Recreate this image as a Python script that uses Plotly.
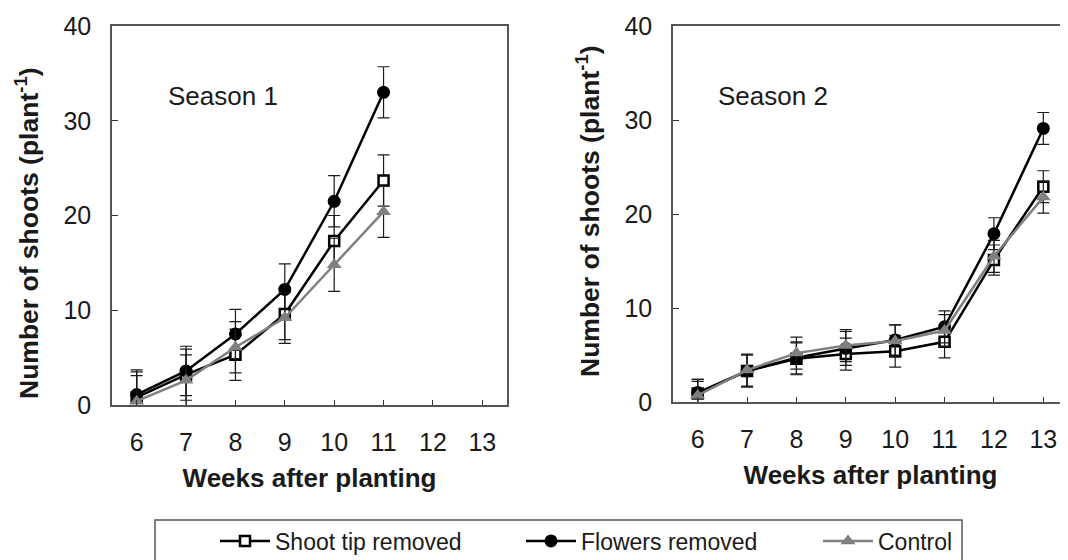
import plotly.graph_objects as go

W, H = 1068, 560
OFF = 8  # the page body offsets the figure by 8 px

weeks_s1 = [6, 7, 8, 9, 10, 11]
weeks_s2 = [6, 7, 8, 9, 10, 11, 12, 13]

# Season 1
shoot_s1 = [0.8, 3.2, 5.3, 9.6, 17.3, 23.7]
shoot_s1_err = [2.7, 2.7, 2.7, 2.7, 2.7, 2.7]
flowers_s1 = [1.1, 3.6, 7.5, 12.2, 21.5, 33.0]
flowers_s1_err = [2.6, 2.6, 2.6, 2.7, 2.7, 2.7]
control_s1 = [0.4, 2.6, 6.1, 9.2, 14.8, 20.4]
control_s1_err = [2.7, 2.7, 2.7, 2.7, 2.8, 2.7]

# Season 2
shoot_s2 = [0.9, 3.3, 4.6, 5.1, 5.4, 6.4, 15.1, 22.9]
shoot_s2_err = [1.5, 1.7, 1.7, 1.7, 1.7, 1.7, 1.6, 1.7]
flowers_s2 = [1.0, 3.3, 4.7, 5.7, 6.6, 8.0, 17.9, 29.1]
flowers_s2_err = [1.4, 1.7, 1.7, 1.8, 1.6, 1.7, 1.7, 1.7]
control_s2 = [0.7, 3.4, 5.2, 6.0, 6.5, 7.6, 15.5, 21.8]
control_s2_err = [1.5, 1.7, 1.7, 1.7, 1.7, 1.7, 1.7, 1.7]

series_names = ["Shoot tip removed", "Flowers removed", "Control"]
x_ticks = [6, 7, 8, 9, 10, 11, 12, 13]
y_ticks = [0, 10, 20, 30, 40]

FONT = "Liberation Sans, Arial, sans-serif"
GREY = "#808080"
ERRC = "#1a1a1a"


def px(x):
    return (x - OFF) / W


def py(y):
    return 1 - (y - OFF) / H


styles = [
    dict(line=dict(color="black", width=2.5),
         marker=dict(symbol="square", size=10, color="white",
                     line=dict(color="black", width=2.5))),
    dict(line=dict(color="black", width=2.5),
         marker=dict(symbol="circle", size=13, color="black",
                     line=dict(color="black", width=0))),
    dict(line=dict(color=GREY, width=2.5),
         marker=dict(symbol="triangle-up", size=13, color=GREY,
                     line=dict(color=GREY, width=0))),
]

fig = go.Figure()

s1 = [(shoot_s1, shoot_s1_err), (flowers_s1, flowers_s1_err), (control_s1, control_s1_err)]
s2 = [(shoot_s2, shoot_s2_err), (flowers_s2, flowers_s2_err), (control_s2, control_s2_err)]
legends = ["legend", "legend2", "legend3"]

for i, (vals, err) in enumerate(s1):
    fig.add_trace(go.Scatter(
        x=weeks_s1, y=vals, mode="lines+markers", name=series_names[i],
        error_y=dict(type="data", array=err, visible=True, color=ERRC,
                     thickness=1.2, width=6),
        xaxis="x", yaxis="y", legend=legends[i], showlegend=True,
        **styles[i]))

for i, (vals, err) in enumerate(s2):
    fig.add_trace(go.Scatter(
        x=weeks_s2, y=vals, mode="lines+markers", name=series_names[i],
        error_y=dict(type="data", array=err, visible=True, color=ERRC,
                     thickness=1.2, width=6),
        xaxis="x2", yaxis="y2", showlegend=False,
        **styles[i]))

axis_common = dict(
    showline=True, linecolor="#555555", linewidth=1.5, mirror=True,
    ticks="inside", tickcolor="#333333", tickwidth=1.2,
    showgrid=False, zeroline=False, automargin=False,
    tickfont=dict(family=FONT, size=25, color="#1a1a1a"),
)

xax = dict(axis_common, range=[5.5, 13.5], tickvals=x_ticks, ticklen=5,
           ticklabelstandoff=14,
           title=dict(text="<b>Weeks after planting</b>", standoff=14,
                      font=dict(family=FONT, size=26, color="#1a1a1a")))
yax = dict(axis_common, range=[0, 40], tickvals=y_ticks, ticklen=6,
           ticklabelstandoff=14)

legend_common = dict(orientation="h", bgcolor="rgba(0,0,0,0)", borderwidth=0,
                     font=dict(family=FONT, size=23, color="#1a1a1a"),
                     xanchor="left", yanchor="middle", itemwidth=50,
                     y=py(541))

fig.update_layout(
    template="none",
    width=W, height=H,
    margin=dict(l=0, r=0, t=0, b=0, pad=0),
    paper_bgcolor="white", plot_bgcolor="white",
    font=dict(family=FONT, color="#1a1a1a"),
    xaxis=dict(xax, domain=[px(112), px(507)], anchor="y"),
    yaxis=dict(yax, domain=[py(405), py(26)], anchor="x"),
    xaxis2=dict(xax, domain=[px(673), px(1068)], anchor="y2"),
    yaxis2=dict(yax, domain=[py(402), py(26)], anchor="x2", mirror=False),
    legend=dict(legend_common, x=px(215)),
    legend2=dict(legend_common, x=px(521)),
    legend3=dict(legend_common, x=px(818)),
    shapes=[dict(type="rect", xref="paper", yref="paper",
                 x0=px(155), x1=px(962), y0=py(610), y1=py(520),
                 line=dict(color="#555555", width=1.5))],
    annotations=[
        dict(text="Season 1", xref="paper", yref="paper", x=px(166), y=py(96),
             xanchor="left", yanchor="middle", showarrow=False,
             font=dict(family=FONT, size=26, color="#1a1a1a")),
        dict(text="Season 2", xref="paper", yref="paper", x=px(716), y=py(96),
             xanchor="left", yanchor="middle", showarrow=False,
             font=dict(family=FONT, size=26, color="#1a1a1a")),
        dict(text="<b>Number of shoots (plant<sup>-1</sup>)</b>", xref="paper", yref="paper",
             x=px(27), y=py(233), textangle=-90, showarrow=False,
             xanchor="center", yanchor="middle",
             font=dict(family=FONT, size=26.5, color="#1a1a1a")),
        dict(text="<b>Number of shoots (plant<sup>-1</sup>)</b>", xref="paper", yref="paper",
             x=px(588), y=py(211), textangle=-90, showarrow=False,
             xanchor="center", yanchor="middle",
             font=dict(family=FONT, size=26.5, color="#1a1a1a")),
    ],
)

fig.write_html("out.html")
